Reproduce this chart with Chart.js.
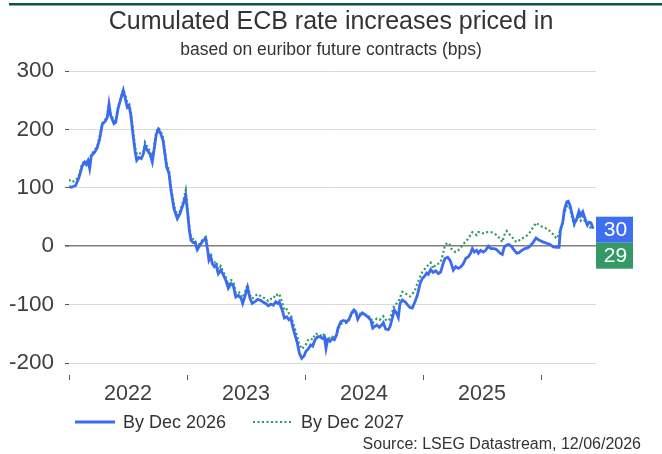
<!DOCTYPE html>
<html>
<head>
<meta charset="utf-8">
<title>Cumulated ECB rate increases priced in</title>
<script src="https://cdn.jsdelivr.net/npm/chart.js@4.4.1/dist/chart.umd.min.js"></script>
<style>
  html, body { margin: 0; padding: 0; background: #fff; }
</style>
</head>
<body>
<canvas id="ecbChart" width="662" height="454"></canvas>
<script>
// sample dates as fractional years
const dates = [
    2022.000, 2022.019, 2022.057, 2022.085, 2022.113, 2022.133, 2022.147, 2022.161, 2022.175, 2022.189, 2022.218, 2022.240, 2022.260, 2022.282, 2022.311, 2022.325, 2022.339, 2022.353, 2022.381, 2022.396, 2022.415, 2022.438, 2022.460, 2022.481, 2022.494, 2022.508, 2022.523, 2022.542, 2022.559, 2022.574, 2022.593, 2022.613, 2022.630, 2022.644, 2022.664, 2022.686, 2022.706, 2022.720, 2022.740, 2022.757, 2022.777, 2022.797, 2022.828, 2022.847, 2022.864, 2022.890, 2022.918, 2022.941, 2022.969, 2022.989,
    2023.006, 2023.020, 2023.034, 2023.053, 2023.068, 2023.087, 2023.110, 2023.138, 2023.159, 2023.175, 2023.186, 2023.201, 2023.214, 2023.231, 2023.246, 2023.265, 2023.286, 2023.308, 2023.328, 2023.350, 2023.373, 2023.392, 2023.413, 2023.435, 2023.458, 2023.472, 2023.492, 2023.513, 2023.534, 2023.553, 2023.576, 2023.599, 2023.627, 2023.647, 2023.667, 2023.689, 2023.712, 2023.731, 2023.752, 2023.769, 2023.782, 2023.797, 2023.811, 2023.825, 2023.845, 2023.864, 2023.881, 2023.896, 2023.915, 2023.935, 2023.952, 2023.972, 2023.992,
    2024.008, 2024.028, 2024.048, 2024.065, 2024.085, 2024.108, 2024.127, 2024.147, 2024.164, 2024.178, 2024.192, 2024.212, 2024.231, 2024.248, 2024.267, 2024.280, 2024.305, 2024.326, 2024.354, 2024.373, 2024.396, 2024.415, 2024.430, 2024.447, 2024.466, 2024.486, 2024.514, 2024.537, 2024.557, 2024.574, 2024.587, 2024.608, 2024.630, 2024.650, 2024.664, 2024.684, 2024.706, 2024.720, 2024.740, 2024.757, 2024.777, 2024.791, 2024.805, 2024.825, 2024.848, 2024.871, 2024.890, 2024.909, 2024.932, 2024.952, 2024.975, 2024.994,
    2025.011, 2025.032, 2025.045, 2025.065, 2025.085, 2025.108, 2025.130, 2025.150, 2025.167, 2025.186, 2025.209, 2025.229, 2025.243, 2025.257, 2025.277, 2025.299, 2025.322, 2025.342, 2025.362, 2025.384, 2025.404, 2025.418, 2025.435, 2025.455, 2025.469, 2025.489, 2025.511, 2025.531, 2025.554, 2025.576, 2025.602, 2025.625, 2025.653, 2025.672, 2025.689, 2025.709, 2025.729, 2025.752, 2025.774, 2025.794, 2025.814, 2025.837, 2025.864, 2025.886, 2025.907, 2025.935, 2025.958, 2025.986,
    2026.020, 2026.049, 2026.076, 2026.104, 2026.133, 2026.153, 2026.164, 2026.184, 2026.197, 2026.218, 2026.231, 2026.246, 2026.265, 2026.282, 2026.303, 2026.322, 2026.337, 2026.354, 2026.373, 2026.393, 2026.409, 2026.424, 2026.441
];

// cumulated hikes priced in (bps), contracts to Dec 2026
const dec2026 = [
    102, 101, 104, 118, 138, 144, 140, 146, 133, 155, 161, 169, 184, 209, 215, 221, 243, 224, 210, 212, 235, 252, 267, 249, 238, 241, 226, 192, 164, 147, 152, 150, 158, 172, 164, 158, 144, 164, 192, 200, 193, 181, 135, 125, 96, 64, 47, 56, 73, 87,
    56, 27, 10, 6, 7, -6, 2, 10, 13, -7, -24, -18, -30, -35, -32, -47, -41, -49, -58, -72, -64, -67, -87, -84, -89, -98, -85, -70, -89, -98, -95, -91, -93, -96, -98, -102, -99, -101, -95, -98, -95, -104, -112, -123, -121, -126, -123, -138, -152, -166, -183, -192, -188,
    -180, -176, -169, -171, -160, -155, -155, -158, -155, -175, -160, -163, -158, -160, -152, -140, -129, -127, -129, -125, -114, -109, -112, -125, -118, -114, -118, -122, -126, -140, -138, -135, -139, -135, -131, -142, -143, -138, -123, -109, -115, -122, -98, -92, -95, -101, -105, -106, -95, -84, -64, -55,
    -52, -46, -48, -40, -45, -42, -47, -44, -32, -21, -19, -24, -32, -41, -35, -38, -35, -30, -21, -18, -12, -4, -10, -7, -12, -7, -10, -7, 0, -4, -4, -6, -12, -14, -1, 2, 3, -1, -7, -12, -11, -7, -4, -3, 0, 7, 14, 10,
    7, 5, 3, -1, -2, -2, 27, 41, 61, 76, 77, 70, 53, 39, 47, 60, 53, 59, 47, 36, 41, 40, 30
];

// same, contracts to Dec 2027
const dec2027 = [
    114, 110, 112, 122, 142, 146, 144, 150, 140, 158, 164, 172, 188, 210, 218, 225, 245, 228, 214, 216, 238, 254, 268, 256, 246, 245, 232, 200, 172, 158, 160, 158, 162, 178, 170, 163, 152, 168, 196, 203, 198, 186, 142, 130, 102, 70, 52, 60, 78, 96,
    62, 32, 16, 12, 10, -2, 6, 12, 16, -2, -18, -12, -26, -28, -26, -40, -34, -44, -52, -66, -58, -60, -80, -78, -82, -92, -78, -66, -84, -90, -85, -82, -86, -88, -90, -94, -90, -90, -82, -84, -82, -90, -100, -110, -108, -115, -118, -130, -142, -155, -168, -176, -172,
    -168, -160, -158, -160, -150, -150, -152, -155, -150, -165, -155, -158, -155, -157, -152, -142, -133, -132, -131, -127, -116, -112, -112, -122, -116, -116, -118, -120, -122, -132, -128, -124, -126, -124, -120, -126, -128, -124, -112, -100, -98, -95, -88, -78, -80, -84, -86, -82, -75, -64, -52, -44,
    -40, -35, -32, -28, -38, -31, -30, -27, -15, 2, 6, 2, -5, -8, -10, -7, -2, 4, 8, 13, 20, 24, 22, 19, 24, 24, 22, 24, 24, 24, 22, 19, 13, 7, 19, 26, 21, 17, 10, 7, 10, 13, 16, 19, 24, 33, 40, 36,
    32, 30, 26, 20, 13, 20, 30, 39, 56, 68, 70, 64, 47, 36, 45, 50, 44, 51, 42, 36, 33, 31, 29
];

const seriesNames = ['By Dec 2026', 'By Dec 2027'];
const yearLabels = ['2022', '2023', '2024', '2025'];
const yTicks = [-200, -100, 0, 100, 200, 300];

const FONT = "'Liberation Sans', Arial, sans-serif";
const BLUE = '#3b6cf0';
const GREEN = '#2e9a5f';

// year boundaries get a tick mark, the label sits in the middle of the year
let xTicks = [];
yearLabels.forEach(y => {
    xTicks.push(Number(y), Number(y) + 0.5);
});
xTicks.push(Number(yearLabels[yearLabels.length - 1]) + 1);

let toPoints = (values) => dates.map((t, i) => ({ x: t, y: values[i] }));

// white page + dark green rule along the top
const pageBackground = {
    id: 'pageBackground',
    beforeDraw: (chart) => {
        const ctx = chart.ctx;
        ctx.save();
        ctx.fillStyle = '#fff';
        ctx.fillRect(0, 0, chart.width, chart.height);
        ctx.fillStyle = '#0b5345';
        ctx.fillRect(9, 3, chart.width - 9, 2.5);
        ctx.restore();
    }
};

// coloured boxes with the latest value of each series, stacked right of the plot
const lastValueTags = {
    id: 'lastValueTags',
    afterDatasetsDraw: (chart) => {
        const ctx = chart.ctx;
        const left = chart.chartArea.right;
        const w = 37, h = 26;
        let top = null;
        ctx.save();
        chart.data.datasets.forEach((ds, i) => {
            const meta = chart.getDatasetMeta(i);
            const lastPt = meta.data[meta.data.length - 1];
            const lastVal = ds.data[ds.data.length - 1].y;
            if (top === null) top = lastPt.y - 12;
            ctx.fillStyle = ds.tagColor;
            ctx.fillRect(left, top, w, h);
            ctx.fillStyle = '#fff';
            ctx.font = '21px ' + FONT;
            ctx.textAlign = 'center';
            ctx.textBaseline = 'middle';
            ctx.fillText(String(Math.round(lastVal)), left + w / 2 + 1, top + h / 2 + 1);
            top += h;
        });
        ctx.restore();
    }
};

// legend row and source line under the axis
const footer = {
    id: 'footer',
    afterDraw: (chart) => {
        const ctx = chart.ctx;
        const y = 422;
        const xs = [75, 253];
        ctx.save();
        chart.data.datasets.forEach((ds, i) => {
            const x = xs[i];
            ctx.strokeStyle = ds.borderColor;
            ctx.lineWidth = ds.borderWidth;
            ctx.setLineDash(ds.borderDash || []);
            ctx.beginPath();
            ctx.moveTo(x, y);
            ctx.lineTo(x + 40, y);
            ctx.stroke();
            ctx.setLineDash([]);
            ctx.fillStyle = '#333';
            ctx.font = '18px ' + FONT;
            ctx.textAlign = 'left';
            ctx.textBaseline = 'middle';
            ctx.fillText(ds.label, x + 48, y + 1);
        });
        ctx.font = '16px ' + FONT;
        ctx.textAlign = 'right';
        ctx.fillText('Source: LSEG Datastream, 12/06/2026', 641, 445);
        ctx.restore();
    }
};

let ctx = document.getElementById('ecbChart').getContext('2d');
let ecbChart = new Chart(ctx, {
    type: 'line',
    data: {
        datasets: [{
            label: seriesNames[0],
            data: toPoints(dec2026),
            borderColor: BLUE,
            borderWidth: 2.8,
            pointRadius: 0,
            tension: 0,
            tagColor: '#3d6ff0'
        }, {
            label: seriesNames[1],
            data: toPoints(dec2027),
            borderColor: GREEN,
            borderWidth: 2.2,
            borderDash: [2, 2.5],
            pointRadius: 0,
            tension: 0,
            tagColor: '#339966'
        }]
    },
    options: {
        responsive: false,
        animation: false,
        layout: { padding: 0 },
        plugins: {
            legend: { display: false },
            tooltip: { enabled: false },
            title: {
                display: true,
                text: 'Cumulated ECB rate increases priced in',
                color: '#333',
                font: { family: FONT, size: 25, weight: 'normal' },
                padding: { top: 7, bottom: 0 }
            },
            subtitle: {
                display: true,
                text: 'based on euribor future contracts (bps)',
                color: '#333',
                font: { family: FONT, size: 17.5 },
                padding: { top: 2.5, bottom: 10.5 }
            }
        },
        scales: {
            x: {
                type: 'linear',
                min: 2022,
                max: 2026.466,
                border: { display: false },
                grid: {
                    drawOnChartArea: false,
                    tickLength: 5,
                    tickColor: (c) => Number.isInteger(c.tick.value) ? '#595959' : 'rgba(0,0,0,0)'
                },
                afterBuildTicks: (scale) => {
                    scale.ticks = xTicks.map(v => ({ value: v }));
                },
                ticks: {
                    autoSkip: false,
                    maxRotation: 0,
                    padding: 1,
                    color: '#404040',
                    font: { family: FONT, size: 21.5 },
                    callback: (v) => Number.isInteger(v) ? '' : String(Math.floor(v))
                },
                // leaves room below for the legend row and the source line
                afterFit: (scale) => { scale.height = 79; }
            },
            y: {
                min: -220.5,
                max: 300,
                border: { display: false },
                afterBuildTicks: (scale) => {
                    scale.ticks = yTicks.map(v => ({ value: v }));
                },
                grid: {
                    color: (c) => c.tick.value === 0 ? '#7f7f7f' : '#d9d9d9',
                    lineWidth: (c) => c.tick.value === 0 ? 1.6 : 1,
                    tickColor: '#595959',
                    tickLength: 4
                },
                ticks: {
                    padding: 11,
                    color: '#404040',
                    font: { family: FONT, size: 22.5 }
                },
                afterFit: (scale) => { scale.width = 69; }
            },
            // empty axis on the right, keeps room for the value tags
            tagSpace: {
                type: 'linear',
                axis: 'y',
                position: 'right',
                border: { display: false },
                grid: { display: false },
                ticks: { display: false },
                afterFit: (scale) => { scale.width = 66; }
            }
        }
    },
    plugins: [pageBackground, lastValueTags, footer]
});
</script>
</body>
</html>
